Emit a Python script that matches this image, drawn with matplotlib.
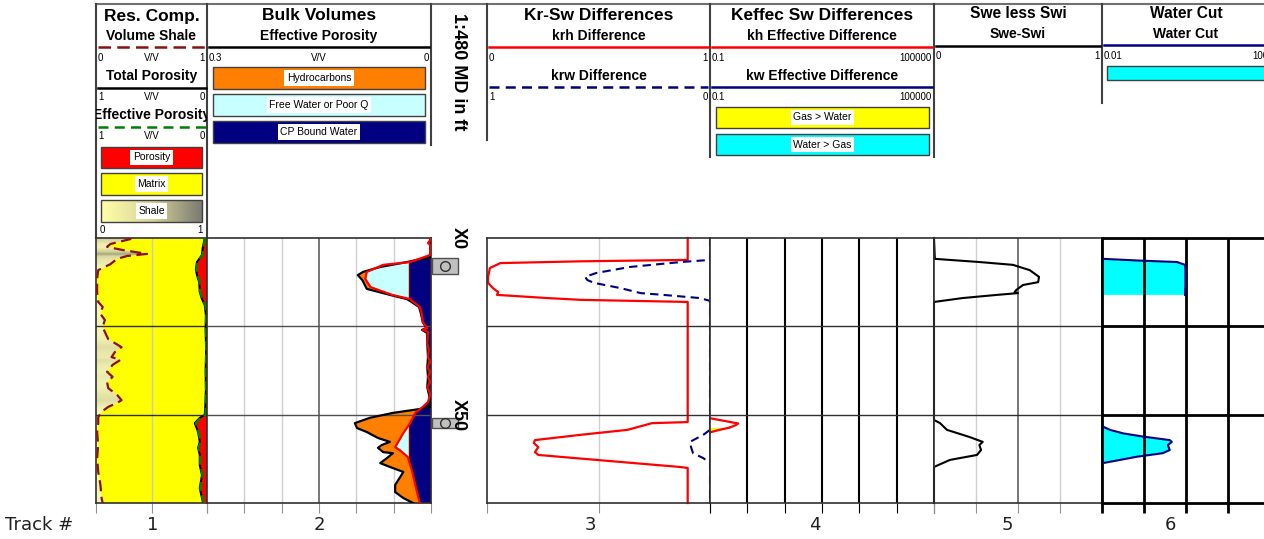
import numpy as np
import matplotlib
matplotlib.use("Agg")
import matplotlib.pyplot as plt
from matplotlib.patches import Rectangle, Polygon
from matplotlib.colors import LinearSegmentedColormap
from matplotlib.transforms import Bbox, TransformedBbox

plt.rcParams["font.family"] = ["Liberation Sans", "DejaVu Sans"]
nan = np.nan

# ---- track 1: resistivity composite (depth in ft below X0)
vsh_depth = [0, 0.3, 1.7, 2.5, 3.4, 4.5, 5.1, 5.9, 7.4, 9.1, 11.6, 15.3, 18.1, 19.5, 21.5, 23.2, 25.2,
             26.6, 28.6, 30.9, 32.3, 33.7, 34.5, 35.9, 37.9, 39.3, 40.8, 42.5, 44.4, 45.9, 46.7, 47.8,
             49.2, 50.7, 52.4, 54.9, 58.6, 62.3, 66.2, 69.9, 73.6, 75]
vsh = [0.30, 0.31, 0.13, 0.10, 0.24, 0.46, 0.28, 0.19, 0.13, 0.02, 0.01, 0.01, 0.02, 0.06, 0.04, 0.08,
       0.06, 0.08, 0.11, 0.23, 0.17, 0.14, 0.22, 0.15, 0.10, 0.15, 0.10, 0.11, 0.19, 0.23, 0.19, 0.11,
       0.05, 0.02, 0.02, 0.01, 0.02, 0.01, 0.02, 0.04, 0.05, 0.06]
phit_depth = [0, 3.1, 4.8, 6.8, 8.8, 10.5, 12.5, 15.3, 17.3, 19.0, 21.8, 26.0, 31.7, 37.4, 43.0, 47.3,
              50.1, 50.9, 52.4, 54.9, 57.7, 59.4, 61.4, 64.3, 67.1, 70.8, 75]
phit = [0.02, 0.04, 0.045, 0.09, 0.10, 0.09, 0.07, 0.065, 0.045, 0.02, 0.01, 0.012, 0.008, 0.012, 0.01,
        0.015, 0.02, 0.065, 0.11, 0.08, 0.065, 0.08, 0.065, 0.065, 0.045, 0.065, 0.035]
phie = [0.015, 0.035, 0.04, 0.085, 0.095, 0.085, 0.065, 0.06, 0.04, 0.015, 0.008, 0.01, 0.006, 0.01,
        0.008, 0.012, 0.015, 0.06, 0.10, 0.075, 0.06, 0.075, 0.06, 0.06, 0.04, 0.06, 0.03]

# ---- track 2: bulk volumes
bv_depth = [0, 5.4, 6.8, 8.2, 9.6, 10.5, 11.9, 14.4, 16.1, 17.3, 19.5, 21.8, 23.8, 25.5, 26.0, 26.9,
            29.7, 33.7, 36.5, 39.3, 42.2, 45.0, 47.8, 48.4, 49.5, 50.9, 52.4, 53.8, 54.9, 56.6, 57.7,
            58.6, 59.4, 60.6, 60.9, 62.3, 63.7, 64.8, 66.2, 67.9, 69.9, 71.9, 73.6, 75]
bv_phie = [0.001, 0.001, 0.032, 0.068, 0.091, 0.098, 0.092, 0.086, 0.055, 0.032, 0.016, 0.013, 0.011,
           0.006, 0.012, 0.005, 0.005, 0.004, 0.005, 0.004, 0.005, 0.002, 0.001, 0.015, 0.051, 0.082,
           0.102, 0.099, 0.086, 0.071, 0.055, 0.066, 0.071, 0.064, 0.051, 0.059, 0.068, 0.055, 0.037,
           0.042, 0.048, 0.048, 0.037, 0.024]
bvw_depth = [0, 0.6, 1.4, 2.3, 3.4, 4.8, 6.8, 7.6, 9.6, 11.6, 13.9, 16.1, 17.3, 19.5, 21.8, 23.8, 25.5,
             26.0, 26.6, 29.7, 31.7, 33.7, 35.1, 36.5, 37.9, 39.3, 40.8, 42.2, 43.6, 44.4, 46.4, 47.8,
             49.5, 52.4, 55.2, 59.2, 60.0, 62.0, 66.2, 69.9, 75]
bvw = [0.001, 0.001, 0.004, 0.0, 0.001, 0.001, 0.028, 0.064, 0.086, 0.088, 0.081, 0.052, 0.028, 0.015,
       0.012, 0.011, 0.005, 0.011, 0.004, 0.005, 0.003, 0.004, 0.001, 0.005, 0.001, 0.004, 0.001, 0.005,
       0.002, 0.001, 0.004, 0.011, 0.021, 0.028, 0.037, 0.048, 0.042, 0.031, 0.025, 0.021, 0.015]
cbw = 0.029

# ---- track 3: kr differences
krh_depth = [0, 6.2, 6.6, 7.1, 8.5, 11.0, 12.7, 14.2, 15.3, 16.1, 17.0, 17.5, 18.1, 52.1, 52.4, 54.3,
             55.7, 57.2, 58.0, 59.2, 60.6, 61.4, 62.8, 64.8, 65.1, 75]
krh = [0.90, 0.90, 0.42, 0.06, 0.013, 0.005, 0.005, 0.027, 0.05, 0.045, 0.27, 0.42, 0.90, 0.90, 0.74,
       0.63, 0.42, 0.215, 0.21, 0.23, 0.215, 0.23, 0.49, 0.865, 0.90, 0.90]
krw_depth = [0, 6.2, 6.8, 8.2, 9.9, 11.0, 11.9, 12.7, 14.2, 15.3, 15.6, 16.1, 17.0, 17.8, 54.3, 55.7,
             57.7, 59.2, 60.9, 62.3, 63.7, 75]
krw = [0, 0, 0.13, 0.36, 0.51, 0.56, 0.55, 0.52, 0.40, 0.33, 0.31, 0.21, 0.045, 0, 0, 0.03, 0.09, 0.085,
       0.076, 0.03, 0, 0]

# ---- track 4: effective permeability differences
k_depth = [51.0, 51.6, 52.5, 53.0, 53.6, 53.65, 54.3, 55.0]
kh = [0.1, 0.2, 0.57, 0.48, 0.34, 0.34, 0.18, 0.1]
kw = [0.1, 0.2, 0.57, 0.48, 0.34, 0.1, 0.1, 0.1]

# ---- track 5: Swe - Swi
swe_depth = [0, 5.9, 6.8, 7.6, 9.1, 11.0, 12.5, 13.3, 14.7, 15.3, 15.6, 16.1, 17.0, 18.1, 51.5, 52.4,
             54.3, 56.3, 57.7, 58.6, 60.0, 61.4, 62.8, 64.8, 75]
swe = [0, 0.005, 0.27, 0.47, 0.57, 0.625, 0.62, 0.53, 0.49, 0.48, 0.50, 0.375, 0.17, 0, 0, 0.036,
       0.077, 0.21, 0.29, 0.27, 0.28, 0.256, 0.095, 0, 0]

# ---- track 6: water cut
wc_depth = [0, 5.8, 5.9, 6.4, 6.8, 7.6, 9.1, 13.3, 15.3, 16.1, 16.2, 53.3, 53.4, 54.3, 55.3, 56.2,
            57.2, 57.7, 58.6, 60.0, 60.9, 61.9, 62.8, 63.7, 63.8, 75]
wc = [nan, nan, 0.0106, 0.08, 0.61, 0.95, 0.97, 0.97, 0.95, 0.95, nan, nan, 0.0106, 0.0155, 0.032,
      0.095, 0.41, 0.46, 0.37, 0.41, 0.28, 0.068, 0.027, 0.0106, nan, nan]

# depth track
depth_ticks = [0, 50]
depth_labels = ["X0", "X50"]
marker_tops = [5.7, 50.9]
marker_bases = [10.2, 53.8]
track_names = ["1", "2", "3", "4", "5", "6"]
track_label_x = [153, 319, 590, 815, 1007, 1170]

W, H = 1264, 539
TOP, BASE = 238, 503
fig = plt.figure(figsize=(W / 100, H / 100), dpi=100)

ov = fig.add_axes([0, 0, 1, 1])
ov.set_xlim(0, W)
ov.set_ylim(H, 0)
ov.axis("off")


def track(x0, x1, xlim, log=False):
    ax = fig.add_axes([x0 / W, 1 - BASE / H, (x1 - x0) / W, (BASE - TOP) / H])
    if log:
        ax.set_xscale("log")
    ax.set_xlim(*xlim)
    ax.set_ylim(75, 0)
    ax.set_yticks([])
    ax.minorticks_off()
    ax.tick_params(axis="x", length=7, color="#909090", labelbottom=False)
    for s in ax.spines.values():
        s.set_color("#303030")
        s.set_linewidth(1.2)
    return ax


def hgrid(ax, color="#303030", lw=1.0):
    for d in (25, 50):
        ax.axhline(d, color=color, lw=lw, zorder=2.5)


# ---------------- track 1
ax1 = track(96, 207, (0, 1))
ax1.set_facecolor("#ffff00")
ax1.set_xticks([0, 0.5, 1])
shale_cmap = LinearSegmentedColormap.from_list("shale", ["#ffffc0", "#d8d49a", "#80806c"])
poly = ax1.fill_betweenx(vsh_depth, 0, vsh, facecolor="none", edgecolor="none")
dd = np.linspace(0, 75, 600)
im = ax1.imshow(np.interp(dd, vsh_depth, vsh)[:, None], cmap=shale_cmap, vmin=0, vmax=0.6,
                extent=[0, 1, 75, 0], aspect="auto", interpolation="nearest", zorder=1)
im.set_clip_path(poly.get_paths()[0], transform=ax1.transData)
ax1.set_xlim(0, 1)
ax1.set_ylim(75, 0)
ax1.axvline(0.5, color="#c8c8c8", lw=1, zorder=2)
hgrid(ax1)
ax1.plot(vsh, vsh_depth, color="#8b1010", lw=1.6, ls=(0, (5, 2.5)), zorder=3)
axp = ax1.twiny()
axp.set_xlim(1, 0)
axp.axis("off")
axp.fill_betweenx(phit_depth, 0, phit, color="#ff0000", lw=0)
axp.plot(phit, phit_depth, color="black", lw=1.5)
axp.plot(phie, phit_depth, color="#008000", lw=1.6, ls=(0, (4, 2)))

# ---------------- track 2
ax2 = track(207, 431, (0.3, 0))
ax2.set_xticks([0.3, 0.25, 0.2, 0.15, 0.1, 0.05, 0])
ax2.set_xlim(0.3, 0)
for g in [0.05, 0.1, 0.2, 0.25]:
    ax2.axvline(g, color="#d0d0d0", lw=1, zorder=0)
ax2.axvline(0.15, color="#606060", lw=1.2, zorder=0)
ax2.fill_betweenx(bv_depth, 0, bv_phie, color="#ff8000", lw=0, zorder=1)
# split BVW at the clay-bound cut-off: free water beyond it, bound water inside it
b_fine = np.interp(dd, bvw_depth, bvw)
bound = np.minimum(b_fine, cbw)
ax2.fill_betweenx(dd, bound, b_fine, facecolor="#c8ffff", edgecolor="none", zorder=1.2)
bound_poly = np.column_stack([np.concatenate([bound, np.zeros_like(dd)]),
                              np.concatenate([dd, dd[::-1]])])
ax2.add_patch(Polygon(bound_poly, closed=True, facecolor="#000080", edgecolor="none", zorder=1.4))
ax2.plot(np.where(b_fine > cbw, cbw, nan), dd, color="#800000", lw=1, zorder=2)
hgrid(ax2, "#505050")
ax2.plot(bv_phie, bv_depth, color="black", lw=1.6, zorder=3)
ax2.plot(bvw, bvw_depth, color="#ff0000", lw=1.6, zorder=3)

# ---------------- depth track
axd = track(431, 487, (0, 56))
axd.set_xticks([])
for s in axd.spines.values():
    s.set_visible(False)
axd.patch.set_alpha(0)
for t, b in zip(marker_tops, marker_bases):
    axd.add_patch(Rectangle((1, t), 26, b - t, fc="#c0c0c0", ec="#505050", lw=1))
    axd.plot([14], [(t + b) / 2], marker="o", ms=7, mfc="none", mec="#303030", mew=1)
for d, lab in zip(depth_ticks, depth_labels):
    axd.text(27, d, lab, rotation=-90, ha="center", va="center", fontsize=13, fontweight="bold",
             clip_on=False)

# ---------------- track 3
ax3 = track(487, 710, (0, 1))
ax3.set_xticks([0, 0.5, 1])
ax3.axvline(0.5, color="#d0d0d0", lw=1, zorder=0)
hgrid(ax3)
ax3.plot(krh, krh_depth, color="#ff0000", lw=1.6, clip_on=False)
ax3w = ax3.twiny()
ax3w.set_xlim(1, 0)
ax3w.axis("off")
ax3w.plot(krw, krw_depth, color="#000080", lw=1.5, ls=(0, (4, 2.5)), clip_on=False)

# ---------------- track 4
ax4 = track(710, 934, (0.1, 1e5), log=True)
decs = [0.1, 1, 10, 100, 1000, 1e4, 1e5]
ax4.set_xticks(decs)
ax4.tick_params(axis="x", color="black")
for g in decs[1:-1]:
    ax4.axvline(g, color="black", lw=1.5, zorder=0)
hgrid(ax4)
ax4.fill_betweenx(k_depth, kw, kh, color="#ffff00", lw=0)
ax4.plot(kh, k_depth, color="#ff0000", lw=1.6)

# ---------------- track 5
ax5 = track(934, 1102, (0, 1))
ax5.set_xticks([0, 0.25, 0.5, 0.75, 1])
for g in [0.25, 0.75]:
    ax5.axvline(g, color="#d0d0d0", lw=1, zorder=0)
ax5.axvline(0.5, color="#606060", lw=1.2, zorder=0)
hgrid(ax5)
ax5.plot(swe, swe_depth, color="black", lw=1.5, clip_on=False)

# ---------------- track 6
ax6 = track(1102, 1270, (0.01, 100), log=True)
ax6.set_xticks([0.01, 0.1, 1, 10, 100])
ax6.tick_params(axis="x", color="black", width=2)
for s in ax6.spines.values():
    s.set_color("black")
    s.set_linewidth(2)
ax6.fill_betweenx(wc_depth, 0.01, wc, color="#00ffff", lw=0, zorder=1)
for g in [0.1, 1, 10]:
    ax6.axvline(g, color="black", lw=2, zorder=2)
hgrid(ax6, "black", 2)
ax6.plot(wc, wc_depth, color="#000080", lw=1.5, zorder=3)

# ---------------- header
ov.plot([96, 1264], [4, 4], color="#707070", lw=1.5)
for x, y1 in [(96, 238), (207, 238), (431, 145), (487, 140), (710, 157), (934, 157), (1102, 103)]:
    ov.plot([x, x], [4, y1], color="#404040", lw=1.5)


def htext(x, y, s, size=10, weight="bold", ha="center", **kw):
    return ov.text(x, y, s, fontsize=size, fontweight=weight, ha=ha, va="center", **kw)


def hline(x0, x1, y, color, ls="-"):
    ov.plot([x0, x1], [y, y], color=color, lw=1.8, ls=ls)


def scale(x0, x1, y, left, right, mid=None):
    htext(x0 + 2, y, left, 7, "normal", "left")
    htext(x1 - 2, y, right, 7, "normal", "right")
    if mid:
        htext((x0 + x1) / 2, y, mid, 7, "normal")


def legend_box(x0, x1, y0, y1, color, label):
    if color is not None:
        ov.add_patch(Rectangle((x0, y0), x1 - x0, y1 - y0, fc=color, ec="#404040", lw=1))
    ov.text((x0 + x1) / 2, (y0 + y1) / 2, label, fontsize=7.5, ha="center", va="center",
            bbox=dict(boxstyle="square,pad=0.25", fc="white", ec="none"))


# track 1 header
htext(151.5, 16, "Res. Comp.", 12.5)
htext(151.5, 36, "Volume Shale")
hline(98, 206, 47, "#8b1010", (0, (5, 2.5)))
scale(96, 207, 58, "0", "1", "V/V")
htext(151.5, 76, "Total Porosity")
hline(98, 206, 88, "black")
scale(96, 207, 97, "1", "0", "V/V")
t = htext(151.5, 115, "Effective Porosity", clip_on=True)
t.set_clip_path(None)
t.set_clip_box(TransformedBbox(Bbox([[96, 0], [207, 240]]), ov.transData))
hline(98, 206, 127, "#008000", (0, (4, 2.5)))
scale(96, 207, 136, "1", "0", "V/V")
legend_box(101, 202, 147, 168, "#ff0000", "Porosity")
legend_box(101, 202, 173, 195, "#ffff00", "Matrix")
ov.imshow(np.linspace(0, 1, 256)[None, :], cmap=LinearSegmentedColormap.from_list(
    "leg", ["#ffffa8", "#d8d49a", "#7a7a70"]), extent=[101, 202, 222, 200], aspect="auto")
legend_box(101, 202, 200, 222, None, "Shale")
ov.add_patch(Rectangle((101, 200), 101, 22, fc="none", ec="#404040", lw=1))
scale(98, 205, 230, "0", "1")

# track 2 header
htext(319, 16, "Bulk Volumes", 12.5)
htext(319, 36, "Effective Porosity")
hline(209, 429, 47, "black")
scale(207, 431, 58, "0.3", "0", "V/V")
legend_box(213, 425, 67, 89, "#ff8000", "Hydrocarbons")
legend_box(213, 425, 94, 116, "#c8ffff", "Free Water or Poor Q")
legend_box(213, 425, 121, 143, "#000080", "CP Bound Water")

# depth header
ov.text(459, 72, "1:480 MD in ft", rotation=-90, ha="center", va="center", fontsize=13,
        fontweight="bold")

# track 3 header
htext(598.5, 16, "Kr-Sw Differences", 12.5)
htext(598.5, 36, "krh Difference")
hline(489, 708, 47, "#ff0000")
scale(487, 710, 58, "0", "1")
htext(598.5, 76, "krw Difference")
hline(489, 708, 87, "#000080", (0, (4, 2.5)))
scale(487, 710, 97, "1", "0")

# track 4 header
htext(822, 16, "Keffec Sw Differences", 12.5)
htext(822, 36, "kh Effective Difference")
hline(712, 932, 47, "#ff0000")
scale(710, 934, 58, "0.1", "100000")
htext(822, 76, "kw Effective Difference")
hline(712, 932, 87, "#000080")
scale(710, 934, 97, "0.1", "100000")
legend_box(716, 929, 107, 128, "#ffff00", "Gas > Water")
legend_box(716, 929, 134, 155, "#00ffff", "Water > Gas")

# track 5 header
htext(1018, 14, "Swe less Swi", 11.2)
htext(1018, 34, "Swe-Swi")
hline(936, 1100, 46, "black")
scale(934, 1102, 56, "0", "1")

# track 6 header
htext(1186, 14, "Water Cut", 11.2)
htext(1186, 34, "Water Cut")
hline(1104, 1264, 45, "#000080")
scale(1102, 1270, 56, "0.01", "100")
ov.add_patch(Rectangle((1107, 66), 170, 14, fc="#00ffff", ec="#404040", lw=1))

ov.set_xlim(0, W)
ov.set_ylim(H, 0)

# track numbers
ov.text(5, 525, "Track #", fontsize=13, family="DejaVu Sans", ha="left", va="center", color="#202020")
for x, n in zip(track_label_x, track_names):
    ov.text(x, 525, n, fontsize=13, family="DejaVu Sans", ha="center", va="center", color="#202020")

fig.savefig("out.png", dpi=100)
